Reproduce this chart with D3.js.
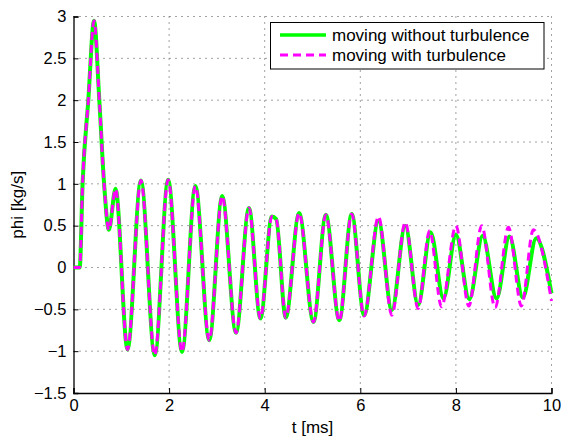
<!DOCTYPE html>
<html>
<head>
<meta charset="utf-8">
<script src="https://cdn.jsdelivr.net/npm/d3@7"></script>
<style>
  body { margin: 0; background: #fff; }
  svg { font-family: "Liberation Sans", Arial, Helvetica, sans-serif; }
</style>
</head>
<body>
<div class="chart"></div>
<script>
// values
const xTicks = [0, 2, 4, 6, 8, 10]
const yTicks = [-1.5, -1, -0.5, 0, 0.5, 1, 1.5, 2, 2.5, 3]

// moving without turbulence (peaks, troughs and a few points on the steep flanks)
const tWithout = [0, 0.13, 0.19, 0.31, 0.43, 0.54, 0.64, 0.74, 0.88, 1.13, 1.41, 1.70, 1.98, 2.27, 2.55, 2.84, 3.11, 3.40, 3.67, 3.91, 4.15, 4.24, 4.44, 4.72, 5.02, 5.28, 5.56, 5.82, 6.08, 6.38, 6.66, 6.94, 7.21, 7.47, 7.74, 8.00, 8.28, 8.56, 8.85, 9.12, 9.40, 9.68, 10]
const phiWithout = [0, 0, 1.0, 2.0, 2.95, 2.0, 1.0, 0.45, 0.94, -0.98, 1.04, -1.05, 1.05, -1.01, 0.975, -0.87, 0.855, -0.78, 0.71, -0.61, 0.61, 0.58, -0.60, 0.65, -0.65, 0.63, -0.63, 0.64, -0.57, 0.56, -0.51, 0.50, -0.45, 0.42, -0.37, 0.39, -0.38, 0.38, -0.37, 0.37, -0.36, 0.35, -0.31]

// moving with turbulence
const tWith = [0, 0.13, 0.19, 0.31, 0.43, 0.54, 0.64, 0.74, 0.88, 1.13, 1.41, 1.70, 1.98, 2.27, 2.55, 2.84, 3.11, 3.40, 3.67, 3.91, 4.15, 4.24, 4.44, 4.72, 5.02, 5.28, 5.56, 5.82, 6.08, 6.38, 6.66, 6.94, 7.21, 7.45, 7.70, 8.00, 8.27, 8.54, 8.82, 9.10, 9.37, 9.62, 10]
const phiWith = [0, 0, 1.0, 2.0, 2.95, 2.0, 1.0, 0.45, 0.94, -0.98, 1.04, -1.05, 1.05, -1.01, 0.975, -0.87, 0.855, -0.78, 0.71, -0.61, 0.61, 0.58, -0.60, 0.65, -0.65, 0.63, -0.64, 0.64, -0.58, 0.61, -0.57, 0.54, -0.49, 0.44, -0.47, 0.50, -0.46, 0.50, -0.48, 0.48, -0.46, 0.45, -0.40]

const seriesNames = ['moving without turbulence', 'moving with turbulence']

var width = 563,
    height = 438,
    padLeft = 73.5,
    padRight = 551.5,
    padTop = 16.5,
    padBottom = 393;

var x = d3.scaleLinear().domain([0, 10]).range([padLeft, padRight])
var y = d3.scaleLinear().domain([-1.5, 3]).range([padBottom, padTop])

var svg = d3.select('.chart')
.append('svg')
.attr('width', width)
.attr('height', height)

// dotted grid
svg.append('g')
.selectAll('line')
.data(xTicks.slice(1))
.enter()
.append('line')
.attr('x1', d => x(d)).attr('x2', d => x(d))
.attr('y1', padTop).attr('y2', padBottom)
.attr('stroke', '#444')
.attr('stroke-dasharray', '1,5')

svg.append('g')
.selectAll('line')
.data(yTicks.slice(1))
.enter()
.append('line')
.attr('x1', padLeft).attr('x2', padRight)
.attr('y1', d => y(d)).attr('y2', d => y(d))
.attr('stroke', '#444')
.attr('stroke-dasharray', '1,5')

// axes, ticks pointing inward
const fmt = d3.format('~g')

svg.append('g')
.attr('transform', `translate(0,${padBottom})`)
.call(d3.axisBottom(x).tickValues(xTicks).tickSize(-5).tickPadding(6).tickFormat(fmt))

svg.append('g')
.attr('transform', `translate(${padLeft},0)`)
.call(d3.axisLeft(y).tickValues(yTicks).tickSize(-5).tickPadding(7).tickFormat(fmt))

svg.selectAll('.domain').attr('stroke', '#000').attr('stroke-width', 1.3)
svg.selectAll('.tick line').attr('stroke', '#000')
svg.selectAll('.tick text')
.attr('font-family', '"Liberation Sans", Arial, sans-serif')
.attr('font-size', 16.5)
.attr('fill', '#000')

// curves
const line = d3.line()
.x(d => x(d[0]))
.y(d => y(d[1]))
.curve(d3.curveMonotoneX)

const without = d3.zip(tWithout, phiWithout)
const withTurb = d3.zip(tWith, phiWith)

svg.append('path')
.datum(without)
.attr('d', line)
.attr('fill', 'none')
.attr('stroke', '#00ff00')
.attr('stroke-width', 4)
.attr('stroke-linejoin', 'round')

svg.append('path')
.datum(withTurb)
.attr('d', line)
.attr('fill', 'none')
.attr('stroke', '#ff00ff')
.attr('stroke-width', 3)
.attr('stroke-dasharray', '8,5')

// axis labels
svg.append('text')
.attr('x', (padLeft + padRight) / 2)
.attr('y', 433)
.attr('text-anchor', 'middle')
.attr('font-size', 17)
.text('t [ms]')

svg.append('text')
.attr('transform', 'translate(23,' + ((padTop + padBottom) / 2) + ') rotate(-90)')
.attr('text-anchor', 'middle')
.attr('font-size', 17)
.text('phi [kg/s]')

// legend
const legend = svg.append('g')

legend.append('rect')
.attr('x', 270.5).attr('y', 22.5)
.attr('width', 273.5).attr('height', 46.5)
.attr('fill', '#fff')
.attr('stroke', '#000')

const legendStyles = [
  {stroke: '#00ff00', width: 3.5, dash: null},
  {stroke: '#ff00ff', width: 3, dash: '8,5'}
]

seriesNames.map((name, i) => {
  legend.append('line')
  .attr('x1', 280).attr('x2', 326)
  .attr('y1', 35 + i * 20).attr('y2', 35 + i * 20)
  .attr('stroke', legendStyles[i].stroke)
  .attr('stroke-width', legendStyles[i].width)
  .attr('stroke-dasharray', legendStyles[i].dash)

  legend.append('text')
  .attr('x', 332)
  .attr('y', 35 + i * 20 + 6)
  .attr('font-size', 17)
  .text(name)
})
</script>
</body>
</html>
